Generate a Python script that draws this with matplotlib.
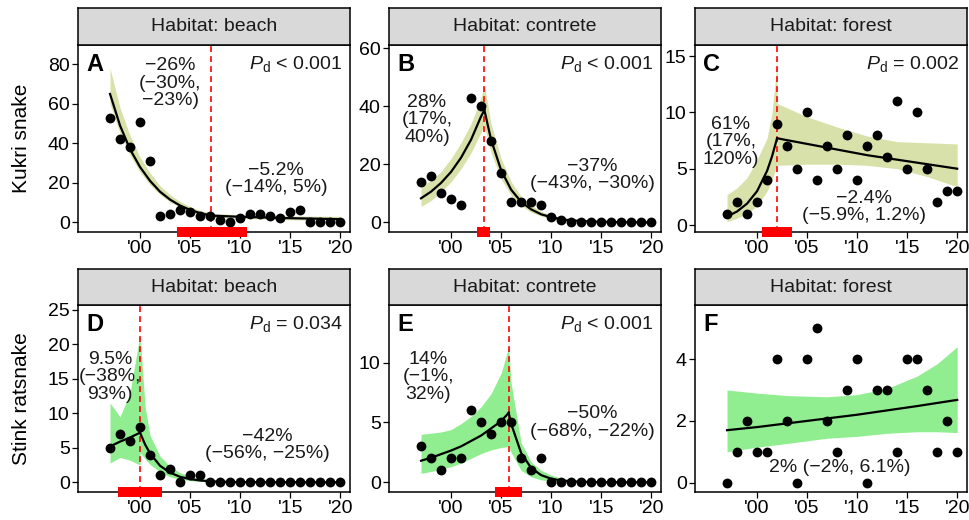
import matplotlib
matplotlib.use("Agg")
import matplotlib.pyplot as plt
import matplotlib.transforms as mtransforms

plt.rcParams["font.family"] = ["Liberation Sans", "DejaVu Sans"]
plt.rcParams["mathtext.fontset"] = "custom"
plt.rcParams["mathtext.rm"] = "Liberation Sans"
plt.rcParams["mathtext.it"] = "Liberation Sans:italic"

# yearly counts, 1997-2020
years = list(range(1997, 2021))
kukri_beach = [53, 42, 38, 51, 31, 3, 4, 6, 5, 3, 3, 1, 0, 2, 4, 4, 3, 2, 5, 6, 0, 0, 0, 0]
kukri_contrete = [14, 16, 10, 8, 6, 43, 40, 28, 17, 7, 7, 7, 6, 2, 1, 0, 0, 0, 0, 0, 0, 0, 0, 0]
kukri_forest = [1, 2, 1, 2, 4, 9, 7, 5, 10, 4, 7, 5, 8, 4, 7, 8, 6, 11, 5, 10, 5, 2, 3, 3]
stink_beach = [5, 7, 6, 8, 4, 1, 2, 0, 1, 1, 0, 0, 0, 0, 0, 0, 0, 0, 0, 0, 0, 0, 0, 0]
stink_contrete = [3, 2, 1, 2, 2, 6, 5, 4, 5, 5, 2, 1, 2, 0, 0, 0, 0, 0, 0, 0, 0, 0, 0, 0]
stink_forest = [0, 1, 2, 1, 1, 4, 2, 0, 4, 5, 2, 1, 3, 4, 0, 3, 3, 1, 4, 4, 3, 1, 2, 1]

# fitted segmented trends: x, fit, lower, upper
a1_x = [1997, 1998, 1999, 2000, 2001, 2002, 2003, 2004, 2005, 2006, 2007, 2007.1]
a1_fit = [65, 49, 37, 28, 21, 15.5, 11.5, 8.5, 6.3, 4.7, 3.5, 3.4]
a1_lo = [60, 45, 34, 25.5, 19, 14, 10.3, 7.5, 5.5, 4, 3, 2.9]
a1_hi = [78, 58, 44, 33, 25, 18.5, 14, 10.5, 8, 6, 4.7, 4.6]
a2_x = [2007.1, 2010, 2015, 2020]
a2_fit = [3.4, 2.8, 2.1, 1.6]
a2_lo = [2.5, 2.0, 1.3, 0.8]
a2_hi = [4.6, 3.8, 3.2, 3.0]

b1_x = [1997, 1998, 1999, 2000, 2001, 2002, 2003, 2003.33]
b1_fit = [8.3, 10.6, 13.6, 17.4, 22.3, 28.5, 36.5, 38.7]
b1_lo = [5.5, 7.5, 10.5, 14, 18.5, 24, 31, 34]
b1_hi = [12.5, 14.5, 17.5, 22, 27.5, 34, 43, 47.5]
b2_x = [2003.33, 2004, 2005, 2006, 2007, 2008, 2009, 2010, 2011, 2012, 2014, 2017, 2020]
b2_fit = [38.7, 28.5, 18, 11.3, 7.1, 4.5, 2.8, 1.8, 1.1, 0.7, 0.3, 0.1, 0]
b2_lo = [33, 24, 15, 9.3, 5.8, 3.5, 2.2, 1.3, 0.8, 0.5, 0.2, 0.05, 0]
b2_hi = [47.5, 34, 22, 14, 9, 6, 3.8, 2.5, 1.6, 1.0, 0.5, 0.2, 0.1]

c1_x = [1997, 1998, 1999, 2000, 2001, 2001.5, 2002]
c1_fit = [0.75, 1.2, 1.9, 3.0, 4.8, 6.1, 7.7]
c1_lo = [0.3, 0.6, 1.0, 1.7, 3.0, 4.0, 5.3]
c1_hi = [2.7, 3.3, 4.2, 5.8, 7.7, 10.0, 14.4]
c2_x = [2002, 2005, 2008, 2011, 2014, 2017, 2020]
c2_fit = [7.7, 7.2, 6.7, 6.2, 5.8, 5.4, 5.0]
c2_lo = [5.3, 5.4, 5.4, 5.3, 5.0, 4.3, 3.4]
c2_hi = [10.8, 9.6, 8.7, 7.9, 7.4, 7.3, 7.2]

d1_x = [1997, 1998, 1999, 2000]
d1_fit = [5.2, 5.9, 6.5, 7.2]
d1_lo = [2.8, 3.6, 3.2, 2.5]
d1_hi = [11.5, 9.5, 13, 21.5]
d2_x = [2000, 2000.5, 2001, 2002, 2003, 2004, 2005, 2006, 2007, 2008, 2010, 2020]
d2_fit = [7.2, 5.5, 4.2, 2.4, 1.4, 0.8, 0.47, 0.27, 0.16, 0.09, 0.03, 0]
d2_lo = [4.3, 3.4, 2.6, 1.5, 0.8, 0.45, 0.25, 0.13, 0.07, 0.04, 0.01, 0]
d2_hi = [21.5, 11, 6.8, 3.8, 2.3, 1.4, 0.9, 0.55, 0.35, 0.2, 0.08, 0]

e1_x = [1997, 1998, 1999, 2000, 2001, 2002, 2003, 2004, 2005, 2005.76]
e1_fit = [1.8, 2.05, 2.35, 2.65, 3.0, 3.45, 3.9, 4.5, 5.1, 5.8]
e1_lo = [0.75, 0.9, 1.1, 1.3, 1.6, 2.0, 2.4, 2.7, 2.9, 3.0]
e1_hi = [4.0, 4.1, 4.2, 4.4, 4.9, 5.5, 6.3, 7.4, 9.1, 11.3]
e2_x = [2005.76, 2006, 2007, 2008, 2009, 2010, 2011, 2012, 2014, 2017, 2020]
e2_fit = [5.8, 4.9, 2.45, 1.2, 0.6, 0.3, 0.15, 0.08, 0.02, 0, 0]
e2_lo = [3.0, 2.5, 1.0, 0.45, 0.2, 0.1, 0.05, 0.02, 0, 0, 0]
e2_hi = [11.3, 8.3, 3.3, 1.7, 1.0, 0.6, 0.35, 0.2, 0.06, 0.01, 0]

f_x = [1997, 2000, 2003, 2007, 2010, 2013, 2016, 2018, 2020]
f_fit = [1.7, 1.8, 1.92, 2.08, 2.2, 2.34, 2.48, 2.58, 2.68]
f_lo = [1.0, 1.15, 1.27, 1.44, 1.5, 1.6, 1.65, 1.65, 1.62]
f_hi = [3.0, 2.9, 2.82, 2.78, 2.85, 3.05, 3.45, 3.85, 4.4]

# breakpoints and their intervals (red bars)
breaks = [2007.1, 2003.33, 2002.0, 2000.0, 2005.76, None]
break_ci = [(2003.7, 2010.7), (2002.6, 2003.9), (2000.5, 2003.5),
            (1997.8, 2002.2), (2004.4, 2007.1), None]

habitats = ["beach", "contrete", "forest"]
species = ["Kukri snake", "Stink ratsnake"]
letters = ["A", "B", "C", "D", "E", "F"]
pd_labels = ["< 0.001", "< 0.001", "= 0.002", "= 0.034", "< 0.001", None]

notes = [
    [(2003.0, 70.5, "−26%\n(−30%,\n−23%)"), (2013.6, 21.9, "−5.2%\n(−14%, 5%)")],
    [(1997.6, 35.3, "28%\n(17%,\n40%)"), (2014.1, 16.3, "−37%\n(−43%, −30%)")],
    [(1997.4, 7.4, "61%\n(17%,\n120%)"), (2010.7, 1.6, "−2.4%\n(−5.9%, 1.2%)")],
    [(1997.0, 15.3, "9.5%\n(−38%,\n93%)"), (2012.75, 5.4, "−42%\n(−56%, −25%)")],
    [(1997.7, 8.8, "14%\n(−1%,\n32%)"), (2014.1, 5.0, "−50%\n(−68%, −22%)")],
    [(2008.3, 0.5, "2% (−2%, 6.1%)")],
]

counts = [kukri_beach, kukri_contrete, kukri_forest,
          stink_beach, stink_contrete, stink_forest]
segments = [
    [(a1_x, a1_fit, a1_lo, a1_hi), (a2_x, a2_fit, a2_lo, a2_hi)],
    [(b1_x, b1_fit, b1_lo, b1_hi), (b2_x, b2_fit, b2_lo, b2_hi)],
    [(c1_x, c1_fit, c1_lo, c1_hi), (c2_x, c2_fit, c2_lo, c2_hi)],
    [(d1_x, d1_fit, d1_lo, d1_hi), (d2_x, d2_fit, d2_lo, d2_hi)],
    [(e1_x, e1_fit, e1_lo, e1_hi), (e2_x, e2_fit, e2_lo, e2_hi)],
    [(f_x, f_fit, f_lo, f_hi)],
]
ylims = [(-4.9, 89.8), (-3.3, 61.1), (-0.62, 15.98),
         (-1.4, 25.7), (-0.81, 14.8), (-0.3, 5.75)]
yticks = [[0, 20, 40, 60, 80], [0, 20, 40, 60], [0, 5, 10, 15],
          [0, 5, 10, 15, 20, 25], [0, 5, 10], [0, 2, 4]]
xticks = [2000, 2005, 2010, 2015, 2020]
xtick_labels = ["'00", "'05", "'10", "'15", "'20"]

# layout in pixels
W, H = 969, 520
fig = plt.figure(figsize=(W / 100, H / 100), dpi=100)
col_left = [78, 389, 695]
panel_w = 271.5
row_top = [45, 305]
panel_h = 187
strip_h = [37, 36]
ribbon_colors = ["#d8e1a9", "#90ee90"]

for i in range(6):
    r, c = divmod(i, 3)
    left = col_left[c]
    top = row_top[r]
    ax = fig.add_axes([left / W, (H - top - panel_h) / H, panel_w / W, panel_h / H])
    sax = fig.add_axes([left / W, (H - top) / H, panel_w / W, strip_h[r] / H])

    # strip
    sax.set_facecolor("#d9d9d9")
    sax.set_xticks([])
    sax.set_yticks([])
    for sp in sax.spines.values():
        sp.set_linewidth(1.1)
    sax.text(0.5, 0.5, f"Habitat: {habitats[c]}", ha="center", va="center",
             fontsize=14, color="#1a1a1a", transform=sax.transAxes)

    for xs, fit, lo, hi in segments[i]:
        ax.fill_between(xs, lo, hi, color=ribbon_colors[r], lw=0, zorder=1)
        ax.plot(xs, fit, color="black", lw=1.6, zorder=3)
    ax.scatter(years, counts[i], s=50, color="black", lw=0, zorder=4, clip_on=False)

    if breaks[i] is not None:
        ax.axvline(breaks[i], color="red", lw=1.2, ls=(0, (3.5, 2.5)), zorder=2)
        trans = mtransforms.blended_transform_factory(ax.transData, ax.transAxes)
        ax.plot(break_ci[i], [0, 0], color="red", lw=7.2, solid_capstyle="butt",
                transform=trans, clip_on=False, zorder=6)

    for x, y, txt in notes[i]:
        ax.text(x, y, txt, ha="center", va="center", fontsize=14,
                linespacing=1.05, color="#1a1a1a", zorder=5)

    ax.text(0.03, 0.895, letters[i], transform=ax.transAxes, ha="left",
            va="center", fontsize=17, fontweight="bold")
    if pd_labels[i] is not None:
        trans = mtransforms.blended_transform_factory(ax.transData, ax.transAxes)
        ax.text(2020.2, 0.9, r"$P_{\mathrm{d}}$ " + pd_labels[i], transform=trans,
                ha="right", va="center", fontsize=14, color="#1a1a1a")

    ax.set_xlim(1993.8, 2020.93)
    ax.set_ylim(*ylims[i])
    ax.set_yticks(yticks[i])
    ax.set_xticks(xticks)
    ax.set_xticklabels(xtick_labels)
    ax.tick_params(axis="both", labelsize=14, length=4, width=0.9, pad=2,
                   colors="black")
    for sp in ax.spines.values():
        sp.set_linewidth(1.1)

fig.text(22 / W, 1 - (45 + panel_h / 2) / H, species[0], rotation=90,
         ha="center", va="center", fontsize=15)
fig.text(22 / W, 1 - (305 + panel_h / 2) / H, species[1], rotation=90,
         ha="center", va="center", fontsize=15)

fig.savefig("out.png", dpi=100)
